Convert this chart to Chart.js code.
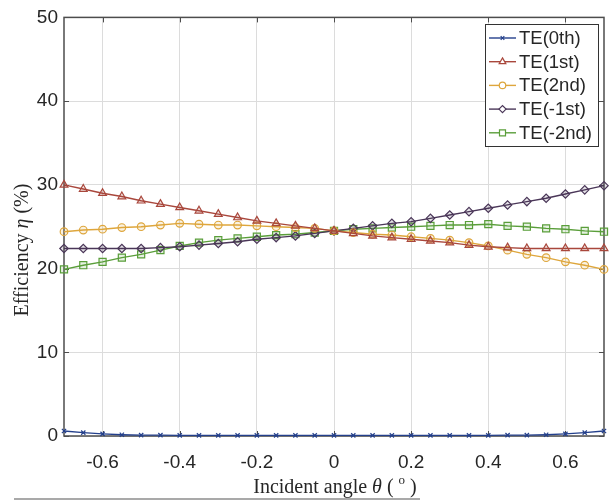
<!DOCTYPE html>
<html>
<head>
<meta charset="utf-8">
<script src="https://cdn.jsdelivr.net/npm/chart.js@4.4.1/dist/chart.umd.min.js"></script>
<style>
  html, body { margin: 0; padding: 0; background: #fff; }
  #wrap { width: 613px; height: 502px; }
</style>
</head>
<body>
<div id="wrap"><canvas id="effChart" width="613" height="502"></canvas></div>
<script>
// --- data: diffraction efficiency (%) vs incident angle (deg) ---
const angles = [-0.7, -0.65, -0.6, -0.55, -0.5, -0.45, -0.4, -0.35, -0.3, -0.25, -0.2, -0.15, -0.1, -0.05, 0,
                0.05, 0.1, 0.15, 0.2, 0.25, 0.3, 0.35, 0.4, 0.45, 0.5, 0.55, 0.6, 0.65, 0.7];

const te0 = [0.6, 0.4, 0.25, 0.15, 0.1, 0.1, 0.08, 0.08, 0.08, 0.08, 0.08, 0.08, 0.08, 0.08, 0.08,
             0.08, 0.08, 0.08, 0.08, 0.08, 0.08, 0.08, 0.08, 0.1, 0.1, 0.15, 0.25, 0.4, 0.6];
const te1 = [30.0, 29.5, 29.0, 28.6, 28.1, 27.7, 27.3, 26.9, 26.5, 26.1, 25.7, 25.4, 25.1, 24.8, 24.5,
             24.2, 23.9, 23.7, 23.5, 23.3, 23.1, 22.8, 22.6, 22.5, 22.4, 22.4, 22.4, 22.4, 22.4];
const te2 = [24.4, 24.6, 24.7, 24.9, 25.0, 25.2, 25.4, 25.3, 25.2, 25.2, 25.1, 25.0, 24.9, 24.8, 24.5,
             24.3, 24.1, 24.0, 23.8, 23.6, 23.4, 23.1, 22.7, 22.2, 21.7, 21.3, 20.8, 20.4, 19.9];
const teM1 = [22.4, 22.4, 22.4, 22.4, 22.4, 22.5, 22.6, 22.8, 23.0, 23.2, 23.5, 23.7, 23.9, 24.2, 24.5,
              24.8, 25.1, 25.4, 25.6, 26.0, 26.4, 26.8, 27.2, 27.6, 28.0, 28.4, 28.9, 29.4, 29.9];
const teM2 = [19.9, 20.4, 20.8, 21.3, 21.7, 22.2, 22.7, 23.1, 23.4, 23.6, 23.8, 24.0, 24.1, 24.3, 24.5,
              24.7, 24.8, 24.9, 25.0, 25.1, 25.2, 25.2, 25.3, 25.1, 25.0, 24.8, 24.7, 24.5, 24.4];

const seriesNames = ['TE(0th)', 'TE(1st)', 'TE(2nd)', 'TE(-1st)', 'TE(-2nd)'];
const xTicks = [-0.6, -0.4, -0.2, 0, 0.2, 0.4, 0.6];
const yTicks = [0, 10, 20, 30, 40, 50];

const SANS = '"Liberation Sans", Arial, sans-serif';
const SERIF = '"Liberation Serif", "Times New Roman", serif';
const INK = '#262626';

const styles = [
  { color: '#24408c', fill: 'rgba(36,64,140,0.15)',  point: 'crossRot', r: 3 },
  { color: '#a9473c', fill: 'rgba(169,71,60,0.15)',  point: 'triangle', r: 4.5 },
  { color: '#dea63c', fill: 'rgba(222,166,60,0.15)', point: 'circle',   r: 3.8 },
  { color: '#4a3658', fill: 'rgba(74,54,88,0.15)',   point: 'rectRot',  r: 4.2 },
  { color: '#5a9e3a', fill: 'rgba(90,158,58,0.15)',  point: 'rect',     r: 5 }
];

const allSeries = [te0, te1, te2, teM1, teM2];

const datasets = allSeries.map((vals, i) => ({
  label: seriesNames[i],
  data: vals.map((v, k) => ({ x: angles[k], y: v })),
  borderColor: styles[i].color,
  backgroundColor: styles[i].fill,
  borderWidth: 1.4,
  pointStyle: styles[i].point,
  pointRadius: styles[i].r,
  pointBorderWidth: 1.2,
  pointBorderColor: styles[i].color,
  pointBackgroundColor: styles[i].fill,
  tension: 0,
  clip: false
}));

// axes box with inward tick marks, drawn under the lines
const frame = {
  id: 'frame',
  beforeDatasetsDraw(chart) {
    const { ctx, chartArea: a, scales: { x, y } } = chart;
    ctx.save();
    ctx.strokeStyle = '#4d4d4d';
    ctx.lineWidth = 1.5;
    ctx.strokeRect(a.left, a.top, a.right - a.left, a.bottom - a.top);
    ctx.lineWidth = 1;
    ctx.beginPath();
    xTicks.forEach(t => {
      const px = Math.round(x.getPixelForValue(t)) + 0.5;
      ctx.moveTo(px, a.bottom); ctx.lineTo(px, a.bottom - 5);
      ctx.moveTo(px, a.top); ctx.lineTo(px, a.top + 5);
    });
    yTicks.forEach(t => {
      const py = Math.round(y.getPixelForValue(t)) + 0.5;
      ctx.moveTo(a.left, py); ctx.lineTo(a.left + 5, py);
      ctx.moveTo(a.right, py); ctx.lineTo(a.right - 5, py);
    });
    ctx.stroke();
    ctx.restore();
  }
};

// draws a run of text pieces (mixed italic / superscript) centred at 0,0
function drawRuns(ctx, runs, size) {
  const fontOf = r => `${r.italic ? 'italic ' : ''}${r.sup ? Math.round(size * 0.65) : size}px ${SERIF}`;
  let total = 0;
  runs.forEach(r => { ctx.font = fontOf(r); total += ctx.measureText(r.t).width; });
  let cx = -total / 2;
  runs.forEach(r => {
    ctx.font = fontOf(r);
    ctx.fillText(r.t, cx, r.sup ? -size * 0.35 : 0);
    cx += ctx.measureText(r.t).width;
  });
}

// axis titles, legend box and the rule under the figure
const decor = {
  id: 'decor',
  afterDraw(chart) {
    const { ctx } = chart;
    ctx.save();
    ctx.fillStyle = INK;
    ctx.textBaseline = 'middle';
    ctx.textAlign = 'left';

    ctx.save();
    ctx.translate(335, 488);
    drawRuns(ctx, [
      { t: 'Incident angle ' }, { t: 'θ', italic: true }, { t: ' ( ' },
      { t: 'o', sup: true }, { t: ' )' }
    ], 20);
    ctx.restore();

    ctx.save();
    ctx.translate(23, 250);
    ctx.rotate(-Math.PI / 2);
    drawRuns(ctx, [{ t: 'Efficiency ' }, { t: 'η', italic: true }, { t: ' (%)' }], 20);
    ctx.restore();

    // legend
    const lx = 485, ly = 24, lw = 113, lh = 122;
    ctx.fillStyle = '#fff';
    ctx.fillRect(lx, ly, lw, lh);
    ctx.strokeStyle = '#333';
    ctx.lineWidth = 1;
    ctx.strokeRect(lx + 0.5, ly + 0.5, lw, lh);
    ctx.font = `18.5px ${SANS}`;
    seriesNames.forEach((name, i) => {
      const st = styles[i];
      const ry = ly + 14 + i * 23.7;
      ctx.strokeStyle = st.color;
      ctx.lineWidth = 1.4;
      ctx.beginPath();
      ctx.moveTo(lx + 4, ry); ctx.lineTo(lx + 31, ry);
      ctx.stroke();
      ctx.fillStyle = '#fff';
      ctx.lineWidth = 1.2;
      Chart.helpers.drawPoint(ctx, { pointStyle: st.point, radius: st.r * 0.85, rotation: 0, borderWidth: 1.2 }, lx + 17.5, ry);
      ctx.fillStyle = INK;
      ctx.fillText(name, lx + 34, ry + 1);
    });

    ctx.strokeStyle = '#8c8c8c';
    ctx.lineWidth = 1.5;
    ctx.beginPath();
    ctx.moveTo(14, 499); ctx.lineTo(420, 499);
    ctx.stroke();
    ctx.restore();
  }
};

new Chart(document.getElementById('effChart'), {
  type: 'line',
  data: { datasets },
  options: {
    responsive: false,
    animation: false,
    devicePixelRatio: 1,
    layout: { padding: { top: 15, right: 9, left: 0, bottom: 0 } },
    plugins: { legend: { display: false }, tooltip: { enabled: false } },
    scales: {
      x: {
        type: 'linear',
        min: -0.7,
        max: 0.7,
        afterBuildTicks: s => { s.ticks = xTicks.map(v => ({ value: v })); },
        afterFit: s => { s.height = 66; },
        ticks: {
          color: INK,
          font: { family: SANS, size: 19 },
          padding: 15,
          maxRotation: 0,
          callback: v => (v === 0 ? '0' : v.toFixed(1))
        },
        grid: { color: '#dcdcdc', lineWidth: 1, drawTicks: false },
        border: { display: false }
      },
      y: {
        min: 0,
        max: 50,
        afterBuildTicks: s => { s.ticks = yTicks.map(v => ({ value: v })); },
        afterFit: s => { s.width = 64; },
        ticks: {
          color: INK,
          font: { family: SANS, size: 19 },
          padding: 6
        },
        grid: { color: '#dcdcdc', lineWidth: 1, drawTicks: false },
        border: { display: false }
      }
    }
  },
  plugins: [frame, decor]
});
</script>
</body>
</html>
